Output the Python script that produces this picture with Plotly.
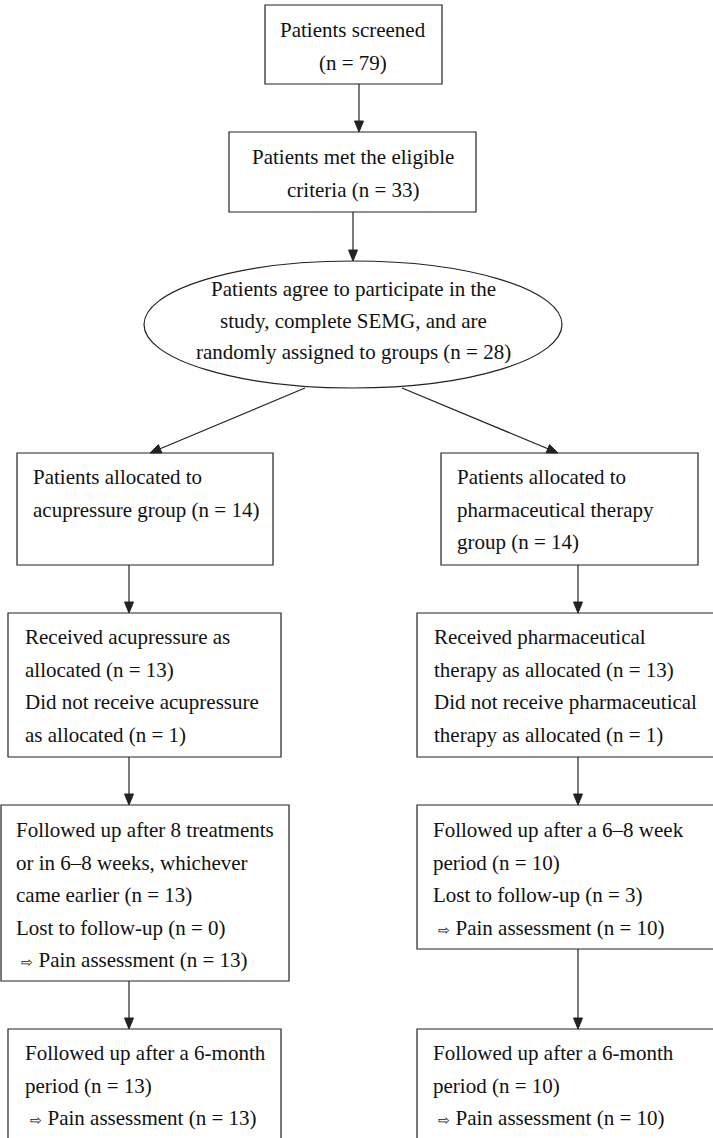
import numpy as np
import plotly.graph_objects as go

# ---- data (participant counts) ----
screened = 79
eligible = 33
randomized = 28
allocated = [14, 14]          # acupressure, pharmaceutical
received = [13, 13]
not_received = [1, 1]
followed_1 = [13, 10]
lost_1 = [0, 3]
pain_1 = [13, 10]
followed_6m = [13, 10]
pain_6m = [13, 10]

ARR = '<span style="font-size:14px">\u21e8</span>'

# ---- node texts ----
node_texts = {
    "screen": ["Patients screened", f"(n = {screened})"],
    "elig": ["Patients met the eligible", f"criteria (n = {eligible})"],
    "rand": ["Patients agree to participate in the",
             "study, complete SEMG, and are",
             f"randomly assigned to groups (n = {randomized})"],
    "allocA": ["Patients allocated to", f"acupressure group (n = {allocated[0]})"],
    "allocB": ["Patients allocated to", "pharmaceutical therapy", f"group (n = {allocated[1]})"],
    "recA": ["Received acupressure as", f"allocated (n = {received[0]})",
             "Did not receive acupressure", f"as allocated (n = {not_received[0]})"],
    "recB": ["Received pharmaceutical", f"therapy as allocated (n = {received[1]})",
             "Did not receive pharmaceutical", f"therapy as allocated (n = {not_received[1]})"],
    "fuA": ["Followed up after 8 treatments", "or in 6\u20138 weeks, whichever",
            f"came earlier (n = {followed_1[0]})", f"Lost to follow-up (n = {lost_1[0]})",
            f" {ARR} Pain assessment (n = {pain_1[0]})"],
    "fuB": ["Followed up after a 6\u20138 week", f"period (n = {followed_1[1]})",
            f"Lost to follow-up (n = {lost_1[1]})", f" {ARR} Pain assessment (n = {pain_1[1]})"],
    "sixA": ["Followed up after a 6-month", f"period (n = {followed_6m[0]})",
             f" {ARR} Pain assessment (n = {pain_6m[0]})"],
    "sixB": ["Followed up after a 6-month", f"period (n = {followed_6m[1]})",
             f" {ARR} Pain assessment (n = {pain_6m[1]})"],
}

# ---- layout geometry (pixels) ----
W, H = 713, 1138
LINE = 32.5
boxes = {
    # name: (x0, y0, x1, y1, text_x, first_line_y, align)
    "screen": (265, 5, 442, 84, 353, 30, "center"),
    "elig": (229, 132, 476, 212, 353, 157, "center"),
    "allocA": (17, 453, 273, 565, 31, 477, "left"),
    "allocB": (441, 453, 698, 565, 455, 477, "left"),
    "recA": (8, 613, 281, 757, 23, 637, "left"),
    "recB": (417, 613, 716, 757, 432, 637, "left"),
    "fuA": (1, 805, 289, 981, 14, 830, "left"),
    "fuB": (417, 805, 716, 949, 431, 830, "left"),
    "sixA": (8, 1029, 281, 1150, 23, 1053, "left"),
    "sixB": (417, 1029, 716, 1150, 431, 1053, "left"),
}
ellipse = (144, 261, 562, 388, 353, 289)

arrows = [
    ((359, 84), (359, 132)),
    ((353, 212), (353, 261)),
    ((305, 388), (150, 453)),
    ((402, 388), (558, 453)),
    ((129, 565), (129, 613)),
    ((578, 565), (578, 613)),
    ((129, 757), (129, 805)),
    ((578, 757), (578, 805)),
    ((129, 981), (129, 1029)),
    ((578, 949), (578, 1029)),
]

FONT = dict(family="Liberation Serif, Times New Roman, serif", size=21, color="#111111")
LC = "#222222"

fig = go.Figure()
fig.add_trace(go.Scatter(x=[0, W], y=[0, H], mode="markers",
                         marker=dict(opacity=0), hoverinfo="skip", showlegend=False))

shapes = []
annotations = []

for name, (x0, y0, x1, y1, tx, ty, align) in boxes.items():
    shapes.append(dict(type="rect", xref="x", yref="y", x0=x0, y0=y0, x1=x1, y1=y1,
                       line=dict(color=LC, width=1.2), fillcolor="white", layer="below"))
    for i, t in enumerate(node_texts[name]):
        annotations.append(dict(x=tx, y=ty + i * LINE, xref="x", yref="y", text=t,
                                showarrow=False, font=FONT,
                                xanchor="center" if align == "center" else "left",
                                yanchor="middle", align=align))

ex0, ey0, ex1, ey1, etx, ety = ellipse
shapes.append(dict(type="circle", xref="x", yref="y", x0=ex0, y0=ey0, x1=ex1, y1=ey1,
                   line=dict(color=LC, width=1.2), fillcolor="white", layer="below"))
for i, t in enumerate(node_texts["rand"]):
    annotations.append(dict(x=etx, y=ety + i * 31.5, xref="x", yref="y", text=t,
                            showarrow=False, font=FONT, xanchor="center", yanchor="middle"))

HEAD_L, HEAD_W = 11, 9
for (sx, sy), (ex, ey) in arrows:
    d = np.array([ex - sx, ey - sy], dtype=float)
    d /= np.linalg.norm(d)
    n = np.array([-d[1], d[0]])
    base = np.array([ex, ey]) - d * HEAD_L
    shapes.append(dict(type="line", xref="x", yref="y", x0=sx, y0=sy, x1=base[0], y1=base[1],
                       line=dict(color=LC, width=1.2)))
    p1 = base + n * HEAD_W / 2
    p2 = base - n * HEAD_W / 2
    path = f"M {ex},{ey} L {p1[0]:.2f},{p1[1]:.2f} L {p2[0]:.2f},{p2[1]:.2f} Z"
    shapes.append(dict(type="path", xref="x", yref="y", path=path,
                       line=dict(color=LC, width=1), fillcolor=LC))

fig.update_layout(
    width=W, height=H, margin=dict(l=0, r=0, t=0, b=0),
    paper_bgcolor="white", plot_bgcolor="white",
    xaxis=dict(range=[0, W], visible=False, fixedrange=True),
    yaxis=dict(range=[H, 0], visible=False, fixedrange=True),
    shapes=shapes, annotations=annotations, showlegend=False,
)

fig.write_html("out.html", config={"displayModeBar": False},
               post_script="document.body.style.margin='0';document.body.style.overflow='hidden';")
